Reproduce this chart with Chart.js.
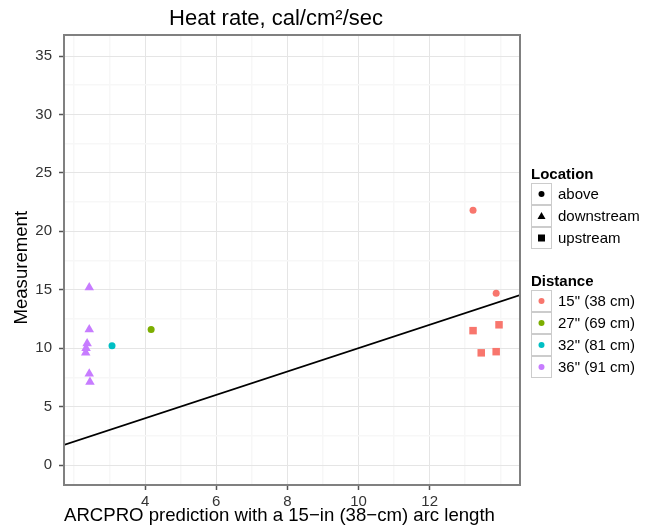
<!DOCTYPE html>
<html>
<head>
<meta charset="utf-8">
<script src="https://cdn.jsdelivr.net/npm/chart.js@4"></script>
<style>
body { margin: 0; background: #fff; }
#wrap { position: relative; width: 654px; height: 529px; font-family: "Liberation Sans", Arial, sans-serif; color: #000; }
#chart { position: absolute; left: 0; top: 0; }
.lg-title { position: absolute; font-weight: bold; font-size: 15px; line-height: 18px; white-space: nowrap; }
.lg-key { position: absolute; box-sizing: border-box; width: 21px; height: 22px; border: 1px solid #cccccc; background: #fff; }
.lg-key svg { display: block; }
.lg-label { position: absolute; font-size: 15px; line-height: 18px; white-space: nowrap; }
</style>
</head>
<body>
<div id="wrap">
  <canvas id="chart" width="654" height="529"></canvas>
  <div id="legend"></div>
</div>
<script>
// axes
const xTickLabels = [4, 6, 8, 10, 12];
const xGridLines = [2, 3, 4, 5, 6, 7, 8, 9, 10, 11, 12, 13, 14];
const yTickLabels = [0, 5, 10, 15, 20, 25, 30, 35];
const yGridLines = [0, 2.5, 5, 7.5, 10, 12.5, 15, 17.5, 20, 22.5, 25, 27.5, 30, 32.5, 35];
const xRange = [1.72, 14.54];
const yRange = [-1.71, 36.8];

// groups
const locations = ['above', 'downstream', 'upstream'];
const locationShapes = ['circle', 'triangle', 'rect'];
const distances = ['15" (38 cm)', '27" (69 cm)', '32" (81 cm)', '36" (91 cm)'];
const distanceColors = ['#F8766D', '#7CAE00', '#00BFC4', '#C77CFF'];

// measurements (x = ARCPRO prediction, y = measurement)
const d15AboveX = [13.22, 13.87];
const d15AboveY = [21.8, 14.7];
const d15UpstreamX = [13.22, 13.95, 13.45, 13.87];
const d15UpstreamY = [11.5, 12.0, 9.6, 9.7];
const d27AboveX = [4.17];
const d27AboveY = [11.6];
const d32AboveX = [3.07];
const d32AboveY = [10.2];
const d36DownstreamX = [2.43, 2.43, 2.37, 2.34, 2.33, 2.43, 2.45];
const d36DownstreamY = [15.2, 11.6, 10.4, 10.0, 9.6, 7.8, 7.1];

const groups = [
  { dist: 0, loc: 0, x: d15AboveX, y: d15AboveY },
  { dist: 0, loc: 2, x: d15UpstreamX, y: d15UpstreamY },
  { dist: 1, loc: 0, x: d27AboveX, y: d27AboveY },
  { dist: 2, loc: 0, x: d32AboveX, y: d32AboveY },
  { dist: 3, loc: 1, x: d36DownstreamX, y: d36DownstreamY }
];

const shapeRadius = { circle: 3.5, triangle: 5.5, rect: 5.3 };

const datasets = groups.map(g => {
  const shape = locationShapes[g.loc];
  return {
    label: distances[g.dist] + ' / ' + locations[g.loc],
    data: g.x.map((v, i) => ({ x: v, y: g.y[i] })),
    pointStyle: shape,
    pointRadius: shapeRadius[shape],
    pointHoverRadius: shapeRadius[shape],
    backgroundColor: distanceColors[g.dist],
    borderWidth: 0
  };
});

// identity line y = x
datasets.unshift({
  label: 'y = x',
  data: xRange.map(v => ({ x: v, y: v })),
  showLine: true,
  pointRadius: 0,
  borderColor: '#000',
  borderWidth: 1.6
});

const panelBorder = {
  id: 'panelBorder',
  afterDatasetsDraw(chart) {
    const a = chart.chartArea, c = chart.ctx;
    c.save();
    c.strokeStyle = '#808080';
    c.lineWidth = 2;
    c.strokeRect(a.left, a.top, a.right - a.left, a.bottom - a.top);
    c.restore();
  }
};

Chart.defaults.font.family = '"Liberation Sans", Arial, sans-serif';

new Chart(document.getElementById('chart'), {
  type: 'scatter',
  data: { datasets },
  plugins: [panelBorder],
  options: {
    responsive: false,
    animation: false,
    devicePixelRatio: 1,
    layout: { padding: { left: 0, right: 102, top: 0, bottom: 0 } },
    plugins: {
      legend: { display: false },
      tooltip: { enabled: false },
      title: {
        display: true,
        text: 'Heat rate, cal/cm²/sec',
        color: '#000',
        font: { size: 22, weight: 'normal' },
        padding: { top: 6, bottom: 2.6 }
      }
    },
    scales: {
      x: {
        type: 'linear',
        min: xRange[0],
        max: xRange[1],
        afterBuildTicks: s => { s.ticks = xGridLines.map(v => ({ value: v })); },
        afterFit: s => { s.height = 44; },
        ticks: {
          autoSkip: false,
          maxRotation: 0,
          padding: 3,
          color: '#333',
          font: { size: 15 },
          callback: v => xTickLabels.includes(v) ? String(v) : ''
        },
        grid: {
          color: c => xTickLabels.includes(c.tick.value) ? '#E5E5E5' : '#F7F7F7',
          lineWidth: c => xTickLabels.includes(c.tick.value) ? 1 : 1.5,
          tickColor: c => xTickLabels.includes(c.tick.value) ? '#555' : 'rgba(0,0,0,0)',
          tickLength: 5,
          tickWidth: 1.5
        },
        border: { display: false },
        title: {
          display: true,
          text: 'ARCPRO prediction with a 15\u2212in (38\u2212cm) arc length',
          align: 'start',
          color: '#000',
          font: { size: 18.6 },
          padding: { top: 0, bottom: 2 }
        }
      },
      y: {
        type: 'linear',
        position: 'left',
        min: yRange[0],
        max: yRange[1],
        afterBuildTicks: s => { s.ticks = yGridLines.map(v => ({ value: v })); },
        afterFit: s => { s.width = 64; },
        ticks: {
          autoSkip: false,
          padding: 7,
          color: '#333',
          font: { size: 15 },
          callback: v => yTickLabels.includes(v) ? String(v) : ''
        },
        grid: {
          color: c => yTickLabels.includes(c.tick.value) ? '#E5E5E5' : '#F7F7F7',
          lineWidth: c => yTickLabels.includes(c.tick.value) ? 1 : 1.5,
          tickColor: c => yTickLabels.includes(c.tick.value) ? '#555' : 'rgba(0,0,0,0)',
          tickLength: 5,
          tickWidth: 1.5
        },
        border: { display: false },
        title: {
          display: true,
          text: 'Measurement   ',
          color: '#000',
          font: { size: 18.6 },
          padding: { top: 11, bottom: 0 }
        }
      },
      yGap: {
        type: 'linear',
        position: 'right',
        display: true,
        min: yRange[0],
        max: yRange[1],
        afterFit: s => { s.width = 32; },
        ticks: { display: false },
        grid: { display: false },
        border: { display: false }
      }
    }
  }
});

// legend (two guides: shape = Location, colour = Distance)
function keySvg(shape, color) {
  if (shape === 'circle') return `<svg width="19" height="20"><circle cx="9.5" cy="10" r="3" fill="${color}"/></svg>`;
  if (shape === 'triangle') return `<svg width="19" height="20"><polygon points="9.5,6 13.5,13 5.5,13" fill="${color}"/></svg>`;
  return `<svg width="19" height="20"><rect x="6" y="6.5" width="7" height="7" fill="${color}"/></svg>`;
}

const legend = document.getElementById('legend');
function addGuide(title, top, labels, svgFor) {
  const t = document.createElement('div');
  t.className = 'lg-title';
  t.style.left = '531px';
  t.style.top = top + 'px';
  t.textContent = title;
  legend.appendChild(t);
  labels.forEach((lab, i) => {
    const ky = top + 18 + i * 22;
    const k = document.createElement('div');
    k.className = 'lg-key';
    k.style.left = '531px';
    k.style.top = ky + 'px';
    k.innerHTML = svgFor(i);
    legend.appendChild(k);
    const l = document.createElement('div');
    l.className = 'lg-label';
    l.style.left = '558px';
    l.style.top = (ky + 2) + 'px';
    l.textContent = lab;
    legend.appendChild(l);
  });
}
addGuide('Location', 165, locations, i => keySvg(locationShapes[i], '#000'));
addGuide('Distance', 272, distances, i => keySvg('circle', distanceColors[i]));
</script>
</body>
</html>
